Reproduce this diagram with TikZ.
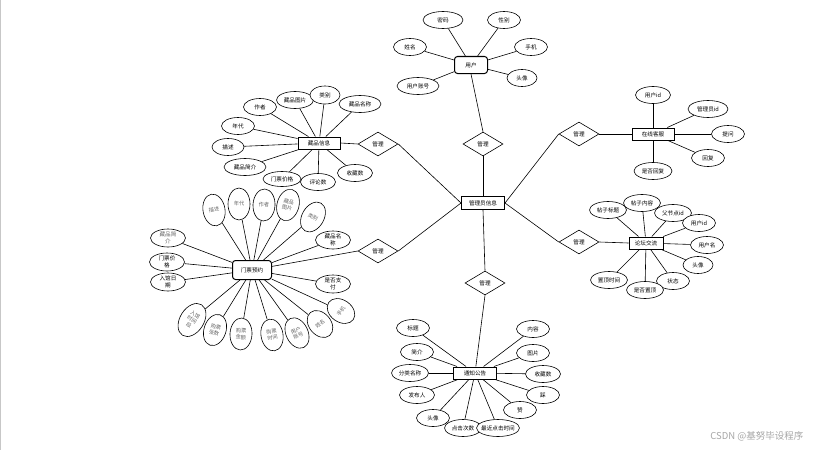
\documentclass[tikz,border=0pt]{standalone}
\usepackage{fontspec}
\setmainfont{Noto Sans CJK SC}
\usetikzlibrary{shapes.geometric,backgrounds}
\begin{document}
\begin{tikzpicture}[x=1pt,y=-1pt,
  font=\fontsize{5.6}{6.6}\selectfont, line width=0.6pt,
  ent/.style={draw, rectangle, line width=1pt, minimum width=#1, minimum height=12pt, inner sep=0pt, fill=white},
  ent/.default=42pt,
  attr/.style={draw, ellipse, minimum width=#1, minimum height=17pt, inner sep=0pt, fill=white, align=center},
  attr/.default=33pt,
  rel/.style={draw, diamond, minimum width=40pt, minimum height=24pt, inner sep=0pt, fill=white},
  tall/.style={draw, ellipse, minimum width=22pt, minimum height=32pt, inner sep=0pt, fill=white, align=center, text=black!60, font=\fontsize{5.2}{6.1}\selectfont},
  grayt/.style={text=black!60},
  link/.style={draw, line width=0.6pt}
]
\useasboundingbox (0,0) rectangle (818,452);
\draw[black!22, line width=1pt] (0.6,0) -- (0.6,450);

% ---------- central entity and relations
\node[ent=43pt, minimum height=13pt] (M) at (483,203) {管理员信息};
\node[rel] (D1) at (378,144) {管理};
\node[rel] (D2) at (378,251) {管理};
\node[rel] (D3) at (483,144) {管理};
\node[rel] (D4) at (485,283) {管理};
\node[rel] (D5) at (579,134) {管理};
\node[rel] (D6) at (579,242) {管理};

% ---------- 用户
\node[ent=33pt, minimum height=17pt, rounded corners=3pt] (U) at (471,65) {用户};
\node[attr=40pt] (u1) at (443,20) {密码};
\node[attr=33pt] (u2) at (504,20) {性别};
\node[attr=33pt] (u3) at (410,47) {姓名};
\node[attr=33pt] (u4) at (531,47) {手机};
\node[attr=42pt] (u5) at (418,86) {用户账号};
\node[attr=30pt] (u6) at (522,78) {头像};

% ---------- 藏品信息
\node[ent=42pt] (C) at (319,143) {藏品信息};
\node[attr=33pt] (c1) at (260,107) {作者};
\node[attr=37pt] (c2) at (295,100) {藏品图片};
\node[attr=30pt, minimum height=18pt] (c3) at (325,95) {类别};
\node[attr=42pt] (c4) at (360,104) {藏品名称};
\node[attr=33pt] (c5) at (238,126) {年代};
\node[attr=32pt] (c6) at (228,147) {描述};
\node[attr=42pt] (c7) at (245,167) {藏品简介};
\node[attr=38pt, minimum height=15pt] (c10) at (282,179) {门票价格};
\node[attr=35pt] (c9) at (355,173) {收藏数};
\node[attr=35pt] (c8) at (318,182) {评论数};

% ---------- 门票预约
\node[ent=39pt, minimum height=19pt, rounded corners=3pt] (T) at (252,270) {门票预约};
\node[tall, rotate=10] (t1) at (214,210) {描述};
\node[tall] (t2) at (239,204) {年代};
\node[tall, rotate=-3] (t3) at (264,205) {作者};
\node[tall, rotate=-15] (t4) at (288,205) {藏品\\图片};
\node[tall, rotate=-30] (t5) at (313,217) {类别};
\node[attr=35pt, minimum height=18pt] (t6) at (333,240) {藏品名\\称};
\node[attr=35pt, minimum height=18pt, grayt] (t7) at (168,238) {藏品简\\介};
\node[attr=35pt, minimum height=18pt] (t8) at (167,262) {门票价\\格};
\node[attr=35pt, minimum height=18pt] (t9) at (168,282) {入馆日\\期};
\node[attr=35pt, minimum height=18pt] (t10) at (333,284) {是否支\\付};
\node[tall, rotate=55, minimum height=30pt] (t11) at (341,311) {手机};
\node[tall, rotate=40, minimum height=30pt] (t12) at (320,324) {姓名};
\node[tall, rotate=25] (t13) at (297,333) {用户\\账号};
\node[tall, rotate=10] (t14) at (272,335) {购票\\时间};
\node[tall, rotate=-3] (t15) at (241,334) {购票\\金额};
\node[tall, rotate=-18] (t16) at (215,330) {购票\\张数};
\node[tall, rotate=-32, minimum width=24pt, minimum height=36pt] (t17) at (192,320) {入馆\\时间\\段};

% ---------- 在线客服
\node[ent=42pt] (S) at (653,134) {在线客服};
\node[attr=35pt] (s1) at (653,95) {用户id};
\node[attr=40pt] (s2) at (708,109) {管理员id};
\node[attr=33pt] (s3) at (728,134) {提问};
\node[attr=33pt] (s4) at (708,158) {回复};
\node[attr=38pt] (s5) at (653,171) {是否回复};

% ---------- 论坛交流
\node[ent=34pt] (F) at (646,243) {论坛交流};
\node[attr=37pt] (f1) at (608,210) {帖子标题};
\node[attr=37pt] (f3) at (673,213) {父节点id};
\node[attr=37pt] (f2) at (642,203) {帖子内容};
\node[attr=33pt] (f4) at (699,223) {用户id};
\node[attr=33pt] (f5) at (707,245) {用户名};
\node[attr=30pt] (f6) at (698,265) {头像};
\node[attr=33pt] (f7) at (673,281) {状态};
\node[attr=37pt] (f9) at (609,280) {置顶时间};
\node[attr=37pt] (f8) at (645,290) {是否置顶};

% ---------- 通知公告
\node[ent=43pt] (N) at (475,373) {通知公告};
\node[attr=33pt] (n1) at (413,328) {标题};
\node[attr=33pt] (n2) at (417,352) {简介};
\node[attr=37pt] (n3) at (410,373) {分类名称};
\node[attr=35pt] (n4) at (417,395) {发布人};
\node[attr=33pt] (n5) at (433,418) {头像};
\node[attr=37pt] (n6) at (463,428) {点击次数};
\node[attr=43pt, inner xsep=-4pt] (n7) at (498,428) {最近点击时间};
\node[attr=33pt] (n8) at (520,410) {赞};
\node[attr=33pt] (n9) at (543,395) {踩};
\node[attr=35pt] (n10) at (543,374) {收藏数};
\node[attr=33pt] (n11) at (533,353) {图片};
\node[attr=33pt] (n12) at (533,329) {内容};

% ---------- watermark
\node[text=black!35, font=\fontsize{9.5}{11}\selectfont, anchor=east] (wm) at (807,436) {CSDN @基努毕设程序};

% ---------- connectors
\begin{scope}[on background layer]
  \draw[link] (D1.east) -- (M.west);
  \draw[link] (D2.east) -- (M.west);
  \draw[link] (D3.south) -- (M.north);
  \draw[link] (M.south) -- (D4.north);
  \draw[link] (M.east) -- (D5.west);
  \draw[link] (M.east) -- (D6.west);
  \draw[link] (U.south) -- (D3.north);
  \draw[link] (D1.west) -- (C.east);
  \draw[link] (D2.west) -- (T);
  \draw[link] (D4.south) -- (N);
  \draw[link] (D5.east) -- (S.west);
  \draw[link] (D6.east) -- (F.west);
  \foreach \a in {u1,u2,u3,u4,u5,u6} \draw[link] (U) -- (\a);
  \foreach \a in {c1,c2,c3,c4,c5,c6,c7,c8,c9,c10} \draw[link] (C) -- (\a);
  \foreach \a in {t1,t2,t3,t4,t5,t6,t7,t8,t9,t10,t11,t12,t13,t14,t15,t16,t17} \draw[link] (T) -- (\a);
  \foreach \a in {s1,s2,s3,s4,s5} \draw[link] (S) -- (\a);
  \foreach \a in {f1,f2,f3,f4,f5,f6,f7,f8,f9} \draw[link] (F) -- (\a);
  \foreach \a in {n1,n2,n3,n4,n5,n6,n7,n8,n9,n10,n11,n12} \draw[link] (N) -- (\a);
\end{scope}
\end{tikzpicture}
\end{document}
